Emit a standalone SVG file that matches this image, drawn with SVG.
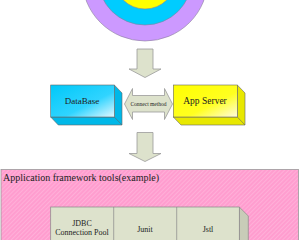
<svg xmlns="http://www.w3.org/2000/svg" width="300" height="240" viewBox="0 0 300 240">
<defs>
<style>
.lbl{font-family:"Liberation Serif","Times New Roman",serif;fill:#222;text-anchor:middle}
.ring{stroke:#8a7f9a;stroke-width:0.6}
.blk{fill:#dde2cc;stroke:#9a9a9a;stroke-width:0.8}
.edge{stroke:#666;stroke-width:0.6}
</style>
<linearGradient id="gCyan" x1="0" y1="0" x2="1" y2="1">
<stop offset="0" stop-color="#00c8f8"/><stop offset="0.6" stop-color="#30d4ff"/><stop offset="1" stop-color="#e4f8ff"/>
</linearGradient>
<linearGradient id="gYel" x1="0" y1="0" x2="1" y2="1">
<stop offset="0" stop-color="#ffff00"/><stop offset="0.6" stop-color="#ffff20"/><stop offset="1" stop-color="#fffbe0"/>
</linearGradient>
<pattern id="hatch" width="3" height="3" patternUnits="userSpaceOnUse" patternTransform="rotate(45)">
<rect width="3" height="3" fill="#ff9dcf"/>
<line x1="0" y1="0" x2="0" y2="3" stroke="#ffc2e2" stroke-width="1"/>
</pattern>
</defs>
<rect width="300" height="240" fill="#fff"/>

<g id="rings">
<circle class="ring" cx="145" cy="-22" r="63" fill="#cc99ff"/>
<circle class="ring" cx="145" cy="-22" r="47" fill="#00ccff"/>
<circle class="ring" cx="145" cy="-22" r="31" fill="#ffff00"/>
</g>

<g id="connectors">
<path class="blk" d="M137,49 H153 V69 H161 L145,77.5 L129,69 H137 Z"/>
<path class="blk" d="M137,132.5 H153 V153.5 H161 L145,161.5 L129,153.5 H137 Z"/>
<path class="blk" d="M124.5,104 L132.5,88.5 V95.5 H164.5 V88.5 L172.5,104 L164.5,119.5 V112 H132.5 V119.5 Z"/>
<text class="lbl" x="148.5" y="106" font-size="5.5">Connect method</text>
</g>

<g id="database">
<path d="M114.3,85 L122,93 V125 H58.3 L50.7,117 H114.3 Z" fill="#00b8e8" class="edge"/>
<path d="M114.3,117 L122,125" class="edge" fill="none"/>
<rect x="50.7" y="85" width="63.6" height="32" fill="url(#gCyan)" class="edge"/>
<text class="lbl" x="82" y="104" font-size="9">DataBase</text>
</g>

<g id="appserver">
<path d="M237.3,85 L245,93 V125 H181 L173.3,117 H237.3 Z" fill="#e8e800" class="edge"/>
<path d="M237.3,117 L245,125" class="edge" fill="none"/>
<rect x="173.3" y="85" width="64" height="32" fill="url(#gYel)" class="edge"/>
<text class="lbl" x="205" y="104" font-size="9.5">App Server</text>
</g>

<g id="framework">
<rect x="1" y="169.5" width="297.5" height="72" fill="url(#hatch)" stroke="#999" stroke-width="0.8"/>
<text x="3" y="181" font-size="10" font-family="'Liberation Serif','Times New Roman',serif" fill="#222">Application framework tools(example)</text>
</g>

<g id="tools">
<path d="M239.3,207 L248.3,216 V241 H239.3 Z" fill="#c8ccb8" stroke="#888" stroke-width="0.7"/>
<rect x="50.7" y="207" width="188.6" height="34" fill="#dde2cc" stroke="#888" stroke-width="0.7"/>
<line x1="113.7" y1="207" x2="113.7" y2="241" stroke="#888" stroke-width="0.7"/>
<line x1="176.7" y1="207" x2="176.7" y2="241" stroke="#888" stroke-width="0.7"/>
<text class="lbl" x="82" y="226" font-size="8">JDBC</text>
<text class="lbl" x="82" y="235" font-size="8">Connection Pool</text>
<text class="lbl" x="145" y="232" font-size="8">Junit</text>
<text class="lbl" x="208" y="232" font-size="8">Jstl</text>
</g>
</svg>
